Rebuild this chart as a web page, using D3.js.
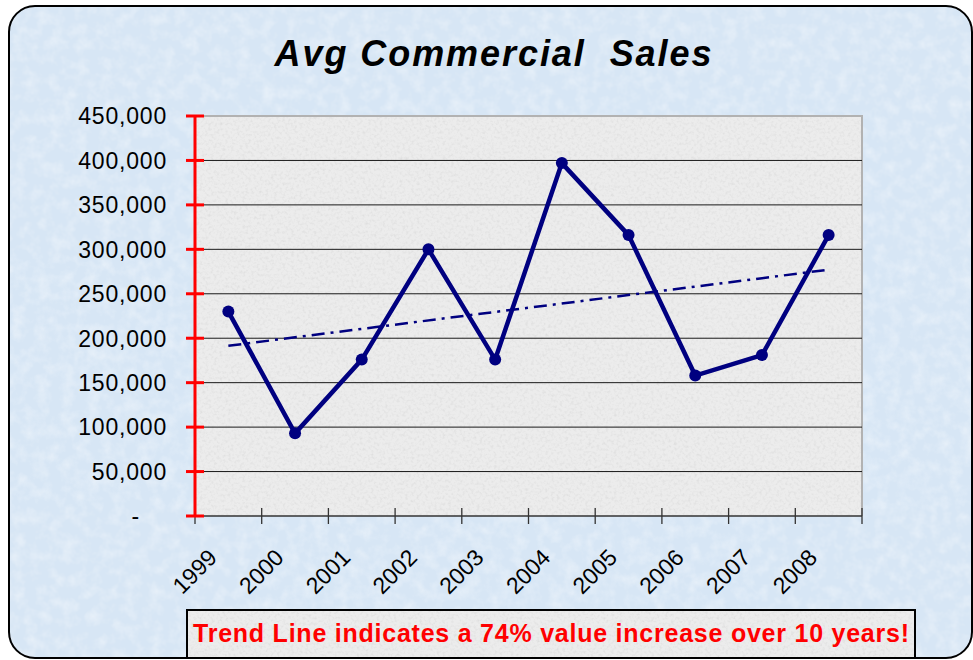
<!DOCTYPE html>
<html>
<head>
<meta charset="utf-8">
<script src="https://cdn.jsdelivr.net/npm/d3@7"></script>
<style>
  html, body { margin: 0; padding: 0; background: #ffffff; }
  svg { display: block; }
  text { font-family: "Liberation Sans", Arial, sans-serif; }
</style>
</head>
<body>
<svg id="chart" width="973" height="660"></svg>
<script>
// ---- data ----
const years = ["1999","2000","2001","2002","2003","2004","2005","2006","2007","2008"];
const sales = [230000, 93000, 176000, 300000, 176000, 397000, 316000, 158000, 181000, 316000];
const yTicks = [0, 50000, 100000, 150000, 200000, 250000, 300000, 350000, 400000, 450000];
const titleText = "Avg Commercial  Sales";
const noteText = "Trend Line indicates a 74% value increase over 10 years!";

const svg = d3.select("#chart");
const W = 973, H = 660;
const plot = { left: 195, right: 862, top: 116, bottom: 516 };

// filters for texture
const defs = svg.append("defs");
const f1 = defs.append("filter").attr("id", "noiseBlue").attr("x", 0).attr("y", 0).attr("width", 1).attr("height", 1);
f1.append("feTurbulence").attr("type", "fractalNoise").attr("baseFrequency", 0.08).attr("numOctaves", 3).attr("seed", 3).attr("result", "n");
f1.append("feColorMatrix").attr("in", "n").attr("type", "matrix")
  .attr("values", "0 0 0 0 1  0 0 0 0 1  0 0 0 0 1  0.9 0 0 0 -0.35").attr("result", "m");
f1.append("feComposite").attr("in", "m").attr("in2", "SourceGraphic").attr("operator", "in");

const f2 = defs.append("filter").attr("id", "noiseGray").attr("x", 0).attr("y", 0).attr("width", 1).attr("height", 1);
f2.append("feTurbulence").attr("type", "fractalNoise").attr("baseFrequency", 0.35).attr("numOctaves", 2).attr("seed", 7).attr("result", "n");
f2.append("feColorMatrix").attr("in", "n").attr("type", "matrix")
  .attr("values", "0 0 0 0 0.55  0 0 0 0 0.55  0 0 0 0 0.55  1.2 0 0 0 -0.55").attr("result", "m");
f2.append("feComposite").attr("in", "m").attr("in2", "SourceGraphic").attr("operator", "in");

const clip = defs.append("clipPath").attr("id", "frameClip");
clip.append("rect").attr("x", 9).attr("y", 6).attr("width", 963).attr("height", 652).attr("rx", 26);

// background frame
svg.append("rect").attr("x", 0).attr("y", 0).attr("width", W).attr("height", H).attr("fill", "#ffffff");
const frameG = svg.append("g").attr("clip-path", "url(#frameClip)");
frameG.append("rect").attr("x", 9).attr("y", 6).attr("width", 963).attr("height", 652).attr("fill", "#d7e6f5");
frameG.append("rect").attr("x", 9).attr("y", 6).attr("width", 963).attr("height", 652).attr("fill", "#d7e6f5")
  .attr("filter", "url(#noiseBlue)").attr("opacity", 0.8);

// plot area
svg.append("rect").attr("x", plot.left).attr("y", plot.top)
  .attr("width", plot.right - plot.left).attr("height", plot.bottom - plot.top).attr("fill", "#ececec");
svg.append("rect").attr("x", plot.left).attr("y", plot.top)
  .attr("width", plot.right - plot.left).attr("height", plot.bottom - plot.top).attr("fill", "#ececec")
  .attr("filter", "url(#noiseGray)").attr("opacity", 0.6);
svg.append("path")
  .attr("d", `M${plot.left},${plot.top}H${plot.right}V${plot.bottom}`)
  .attr("fill", "none").attr("stroke", "#b2b2b2").attr("stroke-width", 2);

// scales
const x = d3.scaleBand().domain(years).range([plot.left, plot.right]).padding(0);
const y = d3.scaleLinear().domain([0, 450000]).range([plot.bottom, plot.top]);
const cx = d => x(d) + x.bandwidth() / 2;

// gridlines
svg.append("g").selectAll("line").data(yTicks.filter(v => v > 0 && v < 450000)).join("line")
  .attr("x1", plot.left).attr("x2", plot.right)
  .attr("y1", d => y(d)).attr("y2", d => y(d))
  .attr("stroke", "#1a1a1a").attr("stroke-width", 1);

// x axis
const xAxisG = svg.append("g");
xAxisG.append("line").attr("x1", plot.left).attr("x2", plot.right)
  .attr("y1", plot.bottom).attr("y2", plot.bottom).attr("stroke", "#333").attr("stroke-width", 1.3);
const bounds = years.map(d => x(d)).concat([x(years[years.length - 1]) + x.bandwidth()]);
xAxisG.selectAll("line.tick").data(bounds).join("line").attr("class", "tick")
  .attr("x1", d => d).attr("x2", d => d).attr("y1", plot.bottom - 8).attr("y2", plot.bottom + 8)
  .attr("stroke", "#333").attr("stroke-width", 1.3);
xAxisG.selectAll("text").data(years).join("text")
  .attr("transform", d => `translate(${cx(d) - 10},${plot.bottom + 43}) rotate(-45)`)
  .attr("text-anchor", "end")
  .attr("font-size", 23)
  .attr("fill", "#000")
  .text(d => d);

// y axis (red)
const yAxisG = svg.append("g");
yAxisG.append("line").attr("x1", plot.left).attr("x2", plot.left)
  .attr("y1", plot.top).attr("y2", plot.bottom).attr("stroke", "#ff0000").attr("stroke-width", 3);
yAxisG.selectAll("line.tick").data(yTicks).join("line").attr("class", "tick")
  .attr("x1", plot.left - 9).attr("x2", plot.left + 9)
  .attr("y1", d => y(d)).attr("y2", d => y(d))
  .attr("stroke", "#ff0000").attr("stroke-width", 3);
const fmt = d3.format(",");
yAxisG.selectAll("text").data(yTicks).join("text")
  .attr("x", d => d === 0 ? 140 : 167).attr("y", d => y(d))
  .attr("dy", "0.36em")
  .attr("text-anchor", "end")
  .attr("font-size", 23).attr("letter-spacing", "0.8px")
  .attr("fill", "#000")
  .text(d => d === 0 ? "-" : fmt(d));

// trend line (least squares)
const n = sales.length;
const xi = d3.range(n);
const mx = d3.mean(xi), my = d3.mean(sales);
const slope = d3.sum(xi, i => (i - mx) * (sales[i] - my)) / d3.sum(xi, i => (i - mx) * (i - mx));
const icpt = my - slope * mx;
svg.append("line")
  .attr("x1", cx(years[0])).attr("y1", y(icpt))
  .attr("x2", cx(years[n - 1])).attr("y2", y(icpt + slope * (n - 1)))
  .attr("stroke", "#000080").attr("stroke-width", 2.5)
  .attr("stroke-dasharray", "13,6,3,6");

// data line
const line = d3.line().x((d, i) => cx(years[i])).y(d => y(d));
svg.append("path").datum(sales).attr("d", line)
  .attr("fill", "none").attr("stroke", "#000080").attr("stroke-width", 4.5)
  .attr("stroke-linejoin", "miter");
svg.append("g").selectAll("circle").data(sales).join("circle")
  .attr("cx", (d, i) => cx(years[i])).attr("cy", d => y(d)).attr("r", 6)
  .attr("fill", "#000080");

// title
svg.append("text")
  .attr("x", 493).attr("y", 66)
  .attr("text-anchor", "middle")
  .attr("font-size", 36).attr("font-weight", "bold").attr("font-style", "italic")
  .attr("fill", "#000")
  .attr("textLength", 437).attr("lengthAdjust", "spacing")
  .style("white-space", "pre")
  .text(titleText);

// note box
svg.append("rect").attr("x", 187).attr("y", 610).attr("width", 728).attr("height", 48)
  .attr("fill", "#ececec").attr("stroke", "none");
svg.append("rect").attr("x", 187).attr("y", 610).attr("width", 728).attr("height", 48)
  .attr("fill", "#ececec").attr("filter", "url(#noiseGray)").attr("opacity", 0.6);
svg.append("rect").attr("x", 187).attr("y", 610).attr("width", 728).attr("height", 48)
  .attr("fill", "none").attr("stroke", "#000").attr("stroke-width", 2);
svg.append("text")
  .attr("x", 551).attr("y", 642)
  .attr("text-anchor", "middle")
  .attr("font-size", 25).attr("font-weight", "bold")
  .attr("fill", "#ff0000")
  .attr("textLength", 716).attr("lengthAdjust", "spacing")
  .text(noteText);

// frame border
svg.append("rect").attr("x", 9).attr("y", 6).attr("width", 963).attr("height", 652).attr("rx", 26)
  .attr("fill", "none").attr("stroke", "#000").attr("stroke-width", 2);
</script>
</body>
</html>
